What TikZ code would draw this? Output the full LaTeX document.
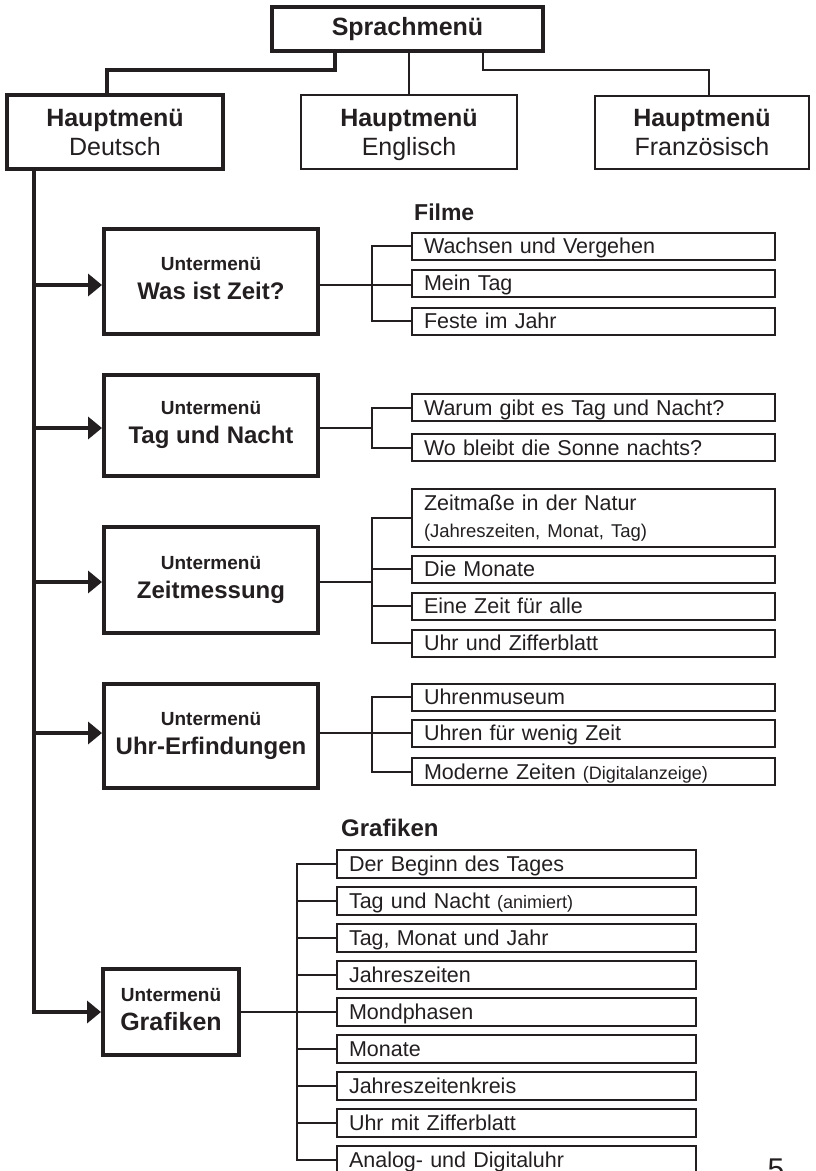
\documentclass[tikz,border=0pt]{standalone}
\usepackage{fontspec}
\setmainfont{Liberation Sans}
\usetikzlibrary{arrows.meta,calc}
\definecolor{ink}{RGB}{35,31,32}
\begin{document}
\begin{tikzpicture}[x=1pt,y=-1pt,
  every node/.style={text=ink},
  thkbox/.style={draw=ink,line width=4pt,inner sep=0pt,align=center},
  thnbox/.style={draw=ink,line width=2pt,inner sep=0pt,align=center},
  itembase/.style={draw=ink,line width=2pt,inner xsep=12pt,inner ysep=0pt,
    text width=#1,align=left,font=\fontsize{21.5}{26}\selectfont},
  itembase/.default=339pt,
  item/.style={itembase=#1,minimum height=27pt,text height=20pt,text depth=4.5pt},
  item/.default=339pt,
  hm/.style={font=\fontsize{25}{29}\selectfont,text depth=0pt},
  sub/.style={thkbox,minimum width=214pt,font=\fontsize{24}{29}\selectfont\bfseries,text depth=5pt},
  thk/.style={draw=ink,line width=4pt,line join=miter},
  thn/.style={draw=ink,line width=2pt,line join=miter},
  arr/.style={draw=ink,line width=4pt,line join=miter,-{Triangle[length=14pt,width=22pt]}}]
\useasboundingbox (0,0) rectangle (816,1171);

% top level
\node[thkbox,minimum width=271pt,minimum height=44pt,font=\fontsize{25}{29}\selectfont\bfseries] (sp) at (407.5,29) {Sprachmenü};
\node[thkbox,hm,minimum width=216pt,minimum height=74pt] (de) at (115,132) {{\bfseries Hauptmenü}\\Deutsch};
\node[thnbox,hm,minimum width=216pt,minimum height=74pt] (en) at (409,132) {{\bfseries Hauptmenü}\\Englisch};
\node[thnbox,hm,minimum width=214pt,minimum height=73pt] (fr) at (702,132.5) {{\bfseries Hauptmenü}\\Französisch};

\draw[thk] ($(sp.south)+(-72.5,0)$) |- ($(de.north)+(-8,-23)$) -- ($(de.north)+(-8,0)$);
\draw[thn] (sp.south -| en.north) -- (en.north);
\draw[thn] ($(sp.south)+(75.5,0)$) |- ($(fr.north)+(7,-25)$) -- ($(fr.north)+(7,0)$);

% submenus
\node[sub,minimum height=105pt] (s1) at (211,281) {{\fontsize{19}{22}\selectfont Untermenü}\\Was ist Zeit?};
\node[sub,minimum height=101pt] (s2) at (211,425) {{\fontsize{19}{22}\selectfont Untermenü}\\Tag und Nacht};
\node[sub,minimum height=106pt] (s3) at (211,580) {{\fontsize{19}{22}\selectfont Untermenü}\\Zeitmessung};
\node[sub,minimum height=104pt] (s4) at (211,736) {{\fontsize{19}{22}\selectfont Untermenü}\\Uhr-Erfindungen};
\node[thkbox,minimum width=136pt,minimum height=86pt,font=\fontsize{25}{29}\selectfont\bfseries,text depth=5pt] (s5) at (171,1012) {{\fontsize{19}{22}\selectfont Untermenü}\\Grafiken};

% trunk and arrows
\coordinate (tr) at ($(de.south)+(-81,0)$);
\draw[arr] (tr) |- (s5.west);
\draw[arr] ($(s1.west -| tr)+(0,4)$) -- ($(s1.west)+(0,4)$);
\draw[arr] ($(s2.west -| tr)+(0,3)$) -- ($(s2.west)+(0,3)$);
\draw[arr] ($(s3.west -| tr)+(0,2)$) -- ($(s3.west)+(0,2)$);
\draw[arr] ($(s4.west -| tr)+(0,-3)$) -- ($(s4.west)+(0,-3)$);

% Filme
\node[anchor=west,inner sep=0pt,font=\fontsize{23}{27}\selectfont\bfseries] (filme) at (414,212) {Filme};
\node[item] (f1) at (593.5,246) {Wachsen und Vergehen};
\node[item] (f2) at (593.5,283) {Mein Tag};
\node[item] (f3) at (593.5,321) {Feste im Jahr};
\coordinate (b1) at (372,285);
\draw[thn] ($(s1.east)+(0,4)$) -- (b1);
\draw[thn] (f1.west) -| (b1) |- (f3.west);
\draw[thn] (b1) -- (b1 -| f2.west);

% Tag und Nacht
\node[item] (t1) at (593.5,407.5) {Warum gibt es Tag und Nacht?};
\node[item] (t2) at (593.5,447.5) {Wo bleibt die Sonne nachts?};
\coordinate (b2) at (372,428);
\draw[thn] ($(s2.east)+(0,3)$) -- (b2);
\draw[thn] (t1.west) -| (b2) |- (t2.west);

% Zeitmessung
\node[itembase,minimum height=58pt] (z1) at (593.5,518) {Zeitmaße in der Natur\\[1pt]{\fontsize{18.5}{21}\selectfont (Jahreszeiten, Monat, Tag)}};
\node[item] (z2) at (593.5,569) {Die Monate};
\node[item] (z3) at (593.5,606) {Eine Zeit für alle};
\node[item] (z4) at (593.5,643) {Uhr und Zifferblatt};
\coordinate (b3) at (372,582);
\draw[thn] ($(s3.east)+(0,2)$) -- (b3);
\draw[thn] (z1.west) -| (b3) |- (z4.west);
\draw[thn] (z2.west) -- (z2.west -| b3);
\draw[thn] (z3.west) -- (z3.west -| b3);

% Uhr-Erfindungen
\node[item] (u1) at (593.5,697) {Uhrenmuseum};
\node[item] (u2) at (593.5,733) {Uhren für wenig Zeit};
\node[item] (u3) at (593.5,771.5) {Moderne Zeiten {\fontsize{18}{21}\selectfont(Digitalanzeige)}};
\coordinate (b4) at (372,733);
\draw[thn] ($(s4.east)+(0,-3)$) -- (b4);
\draw[thn] (u1.west) -| (b4) |- (u3.west);
\draw[thn] (b4) -- (u2.west);

% Grafiken
\node[anchor=west,inner sep=0pt,font=\fontsize{24}{28}\selectfont\bfseries] (graf) at (341,828) {Grafiken};
\foreach \t [count=\i] in {Der Beginn des Tages,
  Tag und Nacht {\fontsize{18}{21}\selectfont(animiert)},
  {Tag, Monat und Jahr}, Jahreszeiten, Mondphasen, Monate,
  Jahreszeitenkreis, Uhr mit Zifferblatt, Analog- und Digitaluhr}
  \node[item=335pt,minimum height=28pt] (g\i) at (516.5,{863.5+37.06*(\i-1)}) {\t};
\coordinate (b5) at (297,1012);
\draw[thn] (g1.west) -| (b5) |- (g9.west);
\foreach \i in {2,3,4,6,7,8} \draw[thn] (g\i.west) -- (g\i.west -| b5);
\draw[thn] (s5.east) -- (s5.east -| g5.west);

% page number
\node[anchor=base,font=\fontsize{30}{36}\selectfont] (pg) at (776,1179) {5};
\end{tikzpicture}
\end{document}
